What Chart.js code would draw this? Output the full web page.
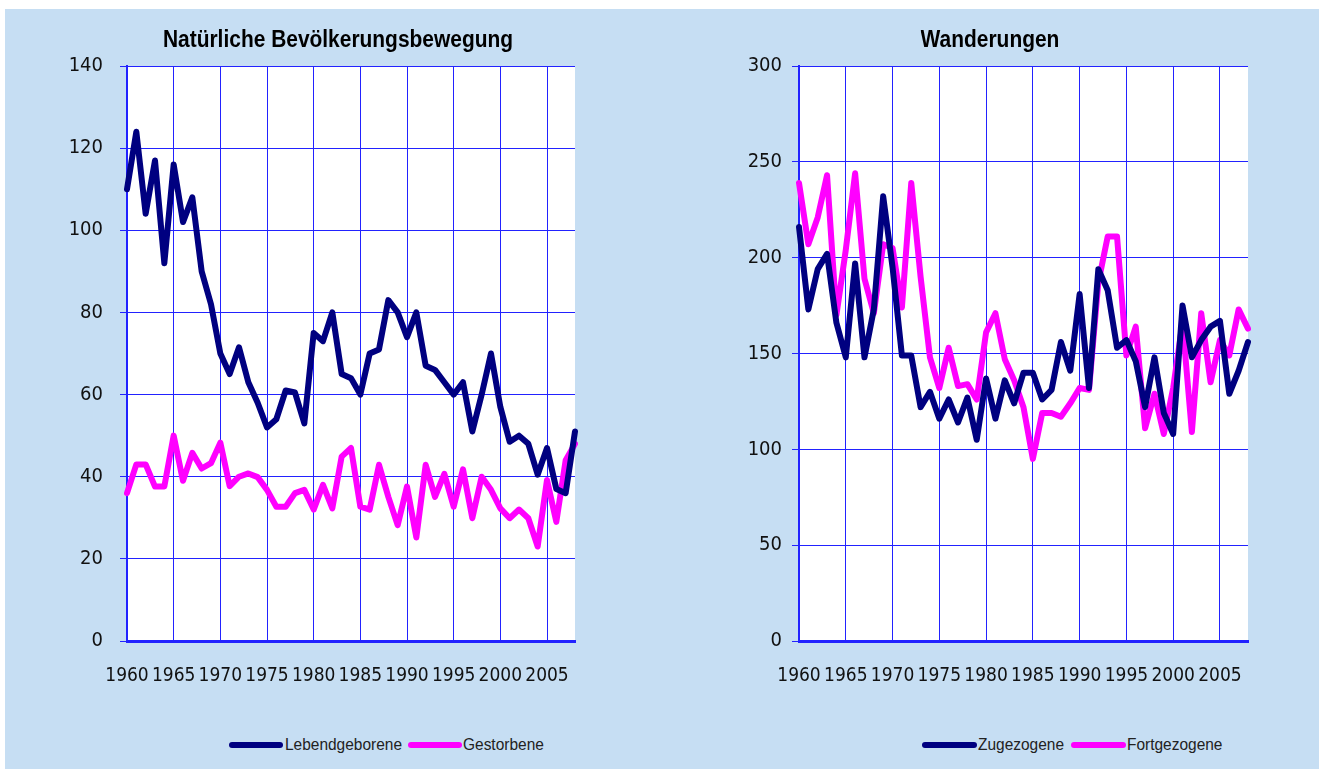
<!DOCTYPE html>
<html lang="de">
<head>
<meta charset="utf-8">
<title>Bevölkerungsbewegung</title>
<script src="https://cdn.jsdelivr.net/npm/chart.js@4.4.1/dist/chart.umd.min.js"></script>
<style>
  html, body { margin: 0; padding: 0; background: #ffffff; }
  body { width: 1319px; height: 771px; position: relative; overflow: hidden;
         font-family: "Liberation Sans", Arial, sans-serif; }
  #panel { position: absolute; left: 5px; top: 9px; width: 1314px; height: 760px; background: #c6def3; }
  canvas { position: absolute; top: 0; }
  #leftChart { left: 0; }
  #rightChart { left: 670px; }
  /* Arial Narrow look: regular face squeezed horizontally */
  .title { position: absolute; top: 26px; font-weight: bold; font-size: 23px; color: #000;
           transform: translateX(-50%) scaleX(0.91); white-space: nowrap; }
  .legend span.line { position: absolute; top: 742px; height: 6px; border-radius: 3px; }
  .legend span.txt { position: absolute; top: 735px; font-size: 17px; color: #222; white-space: nowrap;
                     transform: scaleX(0.91); transform-origin: left center; }
</style>
</head>
<body>
<div id="panel"></div>
<canvas id="leftChart" width="660" height="700"></canvas>
<canvas id="rightChart" width="649" height="700"></canvas>

<div class="title" style="left:338px">Natürliche Bevölkerungsbewegung</div>
<div class="title" style="left:990px">Wanderungen</div>

<div class="legend">
  <span class="line" style="left:229px;width:54px;background:#000080"></span>
  <span class="txt" style="left:285px">Lebendgeborene</span>
  <span class="line" style="left:408px;width:54px;background:#ff00ff"></span>
  <span class="txt" style="left:463px">Gestorbene</span>
</div>
<div class="legend">
  <span class="line" style="left:922px;width:55px;background:#000080"></span>
  <span class="txt" style="left:978px">Zugezogene</span>
  <span class="line" style="left:1071px;width:55px;background:#ff00ff"></span>
  <span class="txt" style="left:1127px">Fortgezogene</span>
</div>

<script>
// ---- data ----
const years = [];
for (let y = 1960; y <= 2008; y++) years.push(String(y));

const lebendgeborene = [110, 124, 104, 117, 92, 116, 102, 108, 90, 82,
  70, 65, 71.5, 63, 58, 52, 54, 61, 60.5, 53,
  75, 73, 80, 65, 64, 60, 70, 71, 83, 80,
  74, 80, 67, 66, 63, 60, 63, 51, 60, 70,
  57, 48.5, 50, 48, 40.5, 47, 37, 36, 51];

const gestorbene = [36, 43, 43, 37.6, 37.6, 50, 39, 45.8, 42, 43.3,
  48.3, 37.7, 40, 40.8, 39.9, 36.8, 32.7, 32.7, 36, 36.8,
  32, 38, 32.3, 44.9, 47, 32.7, 32, 42.9, 35.1, 28.2,
  37.6, 25.2, 42.9, 35.1, 40.7, 32.7, 41.8, 29.9, 40, 36.8,
  32.3, 29.9, 32, 29.9, 23, 39.2, 29, 44, 48];

const zugezogene = [216, 173, 194, 202, 166, 148, 197, 148, 173, 232,
  195, 149, 149, 122, 130, 116, 126, 114, 127, 105,
  137, 116, 136, 124, 140, 140, 126, 131, 156, 141,
  181, 132, 194, 183, 153, 157, 146, 122, 148, 119,
  108, 175, 148, 157, 164, 167, 129, 141, 156];

const fortgezogene = [239, 207, 221, 243, 170, 204, 244, 189, 171, 207,
  205, 174, 239, 190, 148, 132, 153, 133, 134, 126,
  161, 171, 147, 136, 122, 95, 119, 119, 117, 124,
  132, 131, 187, 211, 211, 149, 164, 111, 129, 108,
  132, 166, 109, 171, 135, 157, 149, 173, 163];

const leftAxis = { max: 140, step: 20 };
const rightAxis = { max: 300, step: 50 };

// ---- styling ----
const NAVY = "#000080";
const PINK = "#ff00ff";
const GRID = "#2222ff";
const FONT = "'DejaVu Sans Condensed', 'Liberation Sans', sans-serif";

// white plot background
const plotBackground = {
  id: "plotBackground",
  beforeDraw(chart) {
    const a = chart.chartArea;
    const ctx = chart.ctx;
    ctx.save();
    ctx.fillStyle = "#ffffff";
    ctx.fillRect(a.left, a.top, a.right - a.left, a.bottom - a.top);
    ctx.restore();
  }
};

function makeChart(canvasId, series, axis, yWidth, padRight, labelPad) {
  return new Chart(document.getElementById(canvasId), {
    type: "line",
    data: {
      labels: years,
      datasets: series.map((s) => ({
        label: s.label,
        data: s.data,
        borderColor: s.color,
        backgroundColor: s.color,
        borderWidth: 6,
        borderCapStyle: "round",
        borderJoinStyle: "round",
        pointRadius: 0,
        tension: 0,
        fill: false,
      })),
    },
    options: {
      responsive: false,
      animation: false,
      layout: { padding: { top: 66, right: padRight, bottom: 0, left: 0 } },
      plugins: {
        legend: { display: false },
        title: { display: false },
        tooltip: { enabled: false },
      },
      scales: {
        x: {
          type: "category",
          offset: false,
          afterFit(scale) { scale.height = 59; },
          grid: {
            drawTicks: false,
            color: (ctx) => (ctx.tick && Number(years[ctx.index]) % 5 === 0 ? GRID : "rgba(0,0,0,0)"),
            lineWidth: 1,
          },
          border: { display: true, color: GRID, width: 3 },
          ticks: {
            autoSkip: false,
            maxRotation: 0,
            padding: 24,
            color: "#111",
            font: { family: FONT, size: 19 },
            callback: (val, i) => (Number(years[i]) % 5 === 0 && Number(years[i]) < 2008 ? years[i] : ""),
          },
        },
        y: {
          min: 0,
          max: axis.max,
          afterFit(scale) { scale.width = yWidth; },
          grid: {
            color: GRID,
            lineWidth: 1,
            tickLength: 7,
          },
          border: { display: true, color: GRID, width: 2 },
          ticks: {
            stepSize: axis.step,
            padding: labelPad,
            color: "#111",
            font: { family: FONT, size: 20 },
          },
        },
      },
    },
    plugins: [plotBackground],
  });
}

makeChart("leftChart", [
  { label: "Lebendgeborene", data: lebendgeborene, color: NAVY },
  { label: "Gestorbene", data: gestorbene, color: PINK },
], leftAxis, 127, 85, 17);

makeChart("rightChart", [
  { label: "Zugezogene", data: zugezogene, color: NAVY },
  { label: "Fortgezogene", data: fortgezogene, color: PINK },
], rightAxis, 129, 71, 10);
</script>
</body>
</html>
